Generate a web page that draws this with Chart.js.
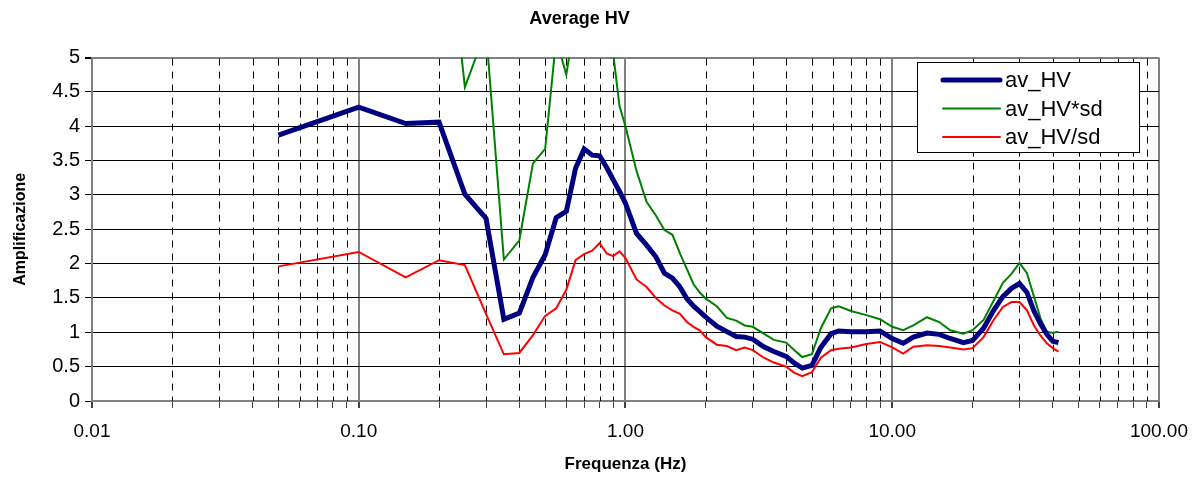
<!DOCTYPE html>
<html>
<head>
<meta charset="utf-8">
<title>Average HV</title>
<script src="https://cdn.jsdelivr.net/npm/chart.js@4.4.1/dist/chart.umd.min.js"></script>
<style>
  html, body { margin: 0; padding: 0; background: #fff; }
  #box { width: 1200px; height: 479px; position: relative; }
</style>
</head>
<body>
<div id="box"><canvas id="graficoHV"></canvas></div>
<script>
// frequenze (Hz)
const frequenze = [0.05, 0.1, 0.15, 0.2, 0.25, 0.3, 0.35, 0.4, 0.45, 0.5, 0.55, 0.6, 0.65, 0.7, 0.75, 0.8, 0.85, 0.9, 0.95, 1.0,
  1.1, 1.2, 1.3, 1.4, 1.5, 1.6, 1.7, 1.8, 1.9, 2.0, 2.2, 2.4, 2.6, 2.8, 3.0, 3.3, 3.6, 4.0, 4.3, 4.6,
  5.0, 5.4, 5.9, 6.3, 7.0, 8.0, 9.0, 10, 11, 12, 13.5, 15, 16.5, 18.5, 20, 22, 24, 26, 28, 30,
  32, 34, 36, 38, 40, 42];

const avHV = [3.87, 4.28, 4.04, 4.06, 3.01, 2.66, 1.19, 1.28, 1.80, 2.13, 2.67, 2.76, 3.39, 3.67, 3.58, 3.57, 3.40, 3.22, 3.05, 2.88,
  2.44, 2.27, 2.10, 1.86, 1.79, 1.66, 1.49, 1.38, 1.30, 1.22, 1.09, 1.01, 0.94, 0.93, 0.90, 0.79, 0.72, 0.65, 0.55, 0.48,
  0.52, 0.78, 0.98, 1.02, 1.01, 1.01, 1.02, 0.91, 0.84, 0.93, 0.99, 0.97, 0.91, 0.85, 0.88, 1.06, 1.32, 1.52, 1.64, 1.71,
  1.58, 1.31, 1.12, 0.97, 0.87, 0.85];

const avHVperSd = [7.64, 8.44, 9.07, 8.04, 4.57, 5.4, 2.06, 2.34, 3.46, 3.67, 5.28, 4.75, 5.61, 6.3, 5.85, 5.55, 5.38, 5.05, 4.29, 4.0,
  3.35, 2.90, 2.70, 2.49, 2.42, 2.15, 1.92, 1.70, 1.58, 1.49, 1.38, 1.21, 1.17, 1.10, 1.08, 0.98, 0.89, 0.85, 0.74, 0.64,
  0.68, 1.06, 1.35, 1.38, 1.31, 1.25, 1.19, 1.08, 1.03, 1.10, 1.22, 1.15, 1.03, 0.98, 1.03, 1.18, 1.46, 1.72, 1.85, 2.01,
  1.86, 1.52, 1.20, 1.01, 0.99, 1.01];

const avHVsuSd = [1.96, 2.17, 1.80, 2.05, 1.98, 1.27, 0.68, 0.70, 0.96, 1.24, 1.35, 1.62, 2.05, 2.14, 2.19, 2.30, 2.15, 2.11, 2.18, 2.08,
  1.77, 1.66, 1.50, 1.39, 1.32, 1.27, 1.15, 1.08, 1.03, 0.93, 0.82, 0.80, 0.74, 0.78, 0.74, 0.63, 0.56, 0.50, 0.41, 0.36,
  0.42, 0.63, 0.74, 0.76, 0.78, 0.83, 0.86, 0.78, 0.69, 0.79, 0.81, 0.80, 0.78, 0.75, 0.77, 0.93, 1.18, 1.37, 1.44, 1.44,
  1.32, 1.10, 0.95, 0.84, 0.77, 0.72];

// tick dell'asse x (decadi + suddivisioni 2..9)
const decadi = [0.01, 0.1, 1, 10, 100];
const tickX = [];
for (let d = 0; d < decadi.length - 1; d++) {
  for (let k = 1; k <= 9; k++) tickX.push(+(decadi[d] * k).toPrecision(3));
}
tickX.push(100);

const tickY = [0, 0.5, 1, 1.5, 2, 2.5, 3, 3.5, 4, 4.5, 5];

Chart.defaults.font.family = '"Liberation Sans", Arial, sans-serif';
Chart.defaults.color = '#000';

function isDecade(v) {
  const l = Math.log10(v);
  return Math.abs(l - Math.round(l)) < 1e-9;
}

function toPunti(valori) {
  return frequenze.map((f, i) => ({ x: f, y: valori[i] }));
}

// griglia secondaria tratteggiata
const griglia = {
  id: 'grigliaMinore',
  beforeDatasetsDraw(chart) {
    const { ctx, chartArea, scales } = chart;
    const x = scales.x;
    ctx.save();
    ctx.strokeStyle = '#000';
    ctx.lineWidth = 1;
    ctx.setLineDash([7, 6]);
    x.ticks.forEach(t => {
      if (isDecade(t.value)) return;
      const px = Math.round(x.getPixelForValue(t.value)) + 0.5;
      ctx.beginPath();
      ctx.moveTo(px, chartArea.top + 1);
      ctx.lineTo(px, chartArea.bottom);
      ctx.stroke();
    });
    ctx.restore();
  }
};

// legenda dentro l'area del grafico
const legenda = {
  id: 'legendaBox',
  afterDatasetsDraw(chart) {
    const { ctx, chartArea } = chart;
    const w = 222, h = 90;
    const x0 = Math.round(chartArea.right - 20 - w);
    const y0 = Math.round(chartArea.top + 4);
    ctx.save();
    ctx.fillStyle = '#fff';
    ctx.fillRect(x0, y0, w, h);
    ctx.strokeStyle = '#000';
    ctx.lineWidth = 1;
    ctx.strokeRect(x0 + 0.5, y0 + 0.5, w, h);
    chart.data.datasets.forEach((ds, i) => {
      const y = y0 + 18 + i * 28.5;
      ctx.strokeStyle = ds.borderColor;
      ctx.lineWidth = ds.borderWidth;
      ctx.lineCap = 'round';
      ctx.beginPath();
      ctx.moveTo(x0 + 26, y);
      ctx.lineTo(x0 + 83, y);
      ctx.stroke();
      ctx.fillStyle = '#000';
      ctx.font = '22px "Liberation Sans", Arial, sans-serif';
      ctx.textBaseline = 'middle';
      ctx.fillText(ds.label, x0 + 88, y + 1);
    });
    ctx.restore();
  }
};

new Chart(document.getElementById('graficoHV'), {
  type: 'line',
  data: {
    datasets: [
      { label: 'av_HV', data: toPunti(avHV), borderColor: '#000080', borderWidth: 5, pointRadius: 0, tension: 0, clip: 0 },
      { label: 'av_HV*sd', data: toPunti(avHVperSd), borderColor: '#008000', borderWidth: 2, pointRadius: 0, tension: 0, clip: 0 },
      { label: 'av_HV/sd', data: toPunti(avHVsuSd), borderColor: '#ff0000', borderWidth: 2, pointRadius: 0, tension: 0, clip: 0 }
    ]
  },
  options: {
    responsive: true,
    maintainAspectRatio: false,
    animation: false,
    layout: { padding: { left: 0, right: 41, top: 0, bottom: 0 } },
    plugins: {
      legend: { display: false },
      tooltip: { enabled: false },
      title: {
        display: true,
        text: 'Average HV',
        font: { size: 18, weight: 'bold' },
        padding: { top: 8, bottom: 28 }
      }
    },
    scales: {
      x: {
        type: 'logarithmic',
        min: 0.01,
        max: 100,
        afterBuildTicks: scale => { scale.ticks = tickX.map(v => ({ value: v, major: isDecade(v) })); },
        afterFit: scale => { scale.height = 78; },
        ticks: {
          autoSkip: false,
          maxRotation: 0,
          padding: 12,
          font: { size: 19 },
          callback: v => isDecade(v) ? Number(v).toFixed(2) : ''
        },
        grid: {
          color: c => (c.tick && isDecade(c.tick.value)) ? '#808080' : 'rgba(0,0,0,0)',
          lineWidth: c => (c.tick && isDecade(c.tick.value)) ? 2 : 1,
          tickColor: '#404040',
          tickLength: 7
        },
        border: { display: true, color: '#808080', width: 2 },
        title: {
          display: true,
          text: 'Frequenza (Hz)',
          font: { size: 17, weight: 'bold' },
          padding: { top: 0, bottom: 4 }
        }
      },
      y: {
        min: 0,
        max: 5,
        afterBuildTicks: scale => { scale.ticks = tickY.map(v => ({ value: v })); },
        afterFit: scale => { scale.width = 92; },
        ticks: {
          padding: 5,
          font: { size: 20 },
          callback: v => String(v)
        },
        grid: {
          color: c => (c.tick && c.tick.value === 5) ? '#808080' : '#000',
          lineWidth: c => (c.tick && c.tick.value === 5) ? 2 : 1,
          tickColor: '#000',
          tickLength: 7
        },
        border: { display: true, color: '#808080', width: 2 },
        title: {
          display: true,
          text: 'Amplificazione',
          font: { size: 16, weight: 'bold' },
          padding: { top: 11, bottom: 0 }
        }
      }
    }
  },
  plugins: [griglia, legenda]
});
</script>
</body>
</html>
